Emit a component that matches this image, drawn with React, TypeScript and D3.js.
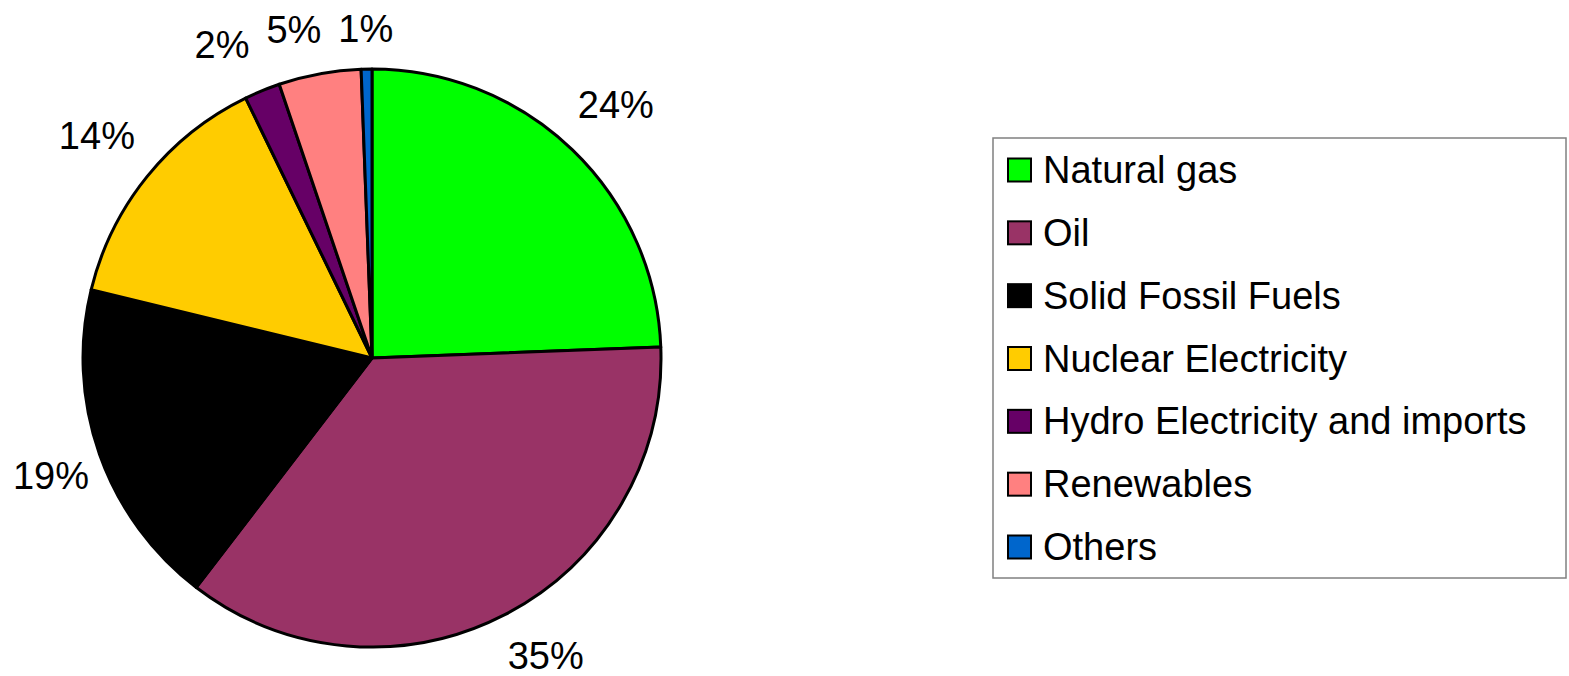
import React from "react";
import * as d3 from "d3";

const categories = [
  "Natural gas",
  "Oil",
  "Solid Fossil Fuels",
  "Nuclear Electricity",
  "Hydro Electricity and imports",
  "Renewables",
  "Others",
];
const shares = [24.4, 36.0, 18.4, 14.0, 2.0, 4.6, 0.6];
const pctLabels = ["24%", "35%", "19%", "14%", "2%", "5%", "1%"];
const colors = ["#00FF00", "#993366", "#000000", "#FFCC00", "#660066", "#FF8080", "#0066CC"];

const W = 1569;
const H = 676;
const CX = 372;
const CY = 358;
const R = 289;
const GAP = 26;
const FS = 38;
const HH = 14;
const MIN_SEP = 17;
const FONT = "'Liberation Sans', Arial, sans-serif";

function textW(s: string) {
  let w = 0;
  for (const ch of s) w += ch === "%" ? 0.889 : 0.556;
  return w * FS;
}

type Box = { x: number; y: number; hw: number };

export default function App() {
  const pie = d3
    .pie<number>()
    .sort(null)
    .value((d) => d)
    .startAngle(0)
    .endAngle(2 * Math.PI);
  const arcs = pie(shares);
  const arc = d3.arc<d3.PieArcDatum<number>>().innerRadius(0).outerRadius(R);

  // label placement (absolute coordinates of text box centres)
  const boxes: Box[] = arcs.map((a, i) => {
    const mid = (a.startAngle + a.endAngle) / 2;
    const ux = Math.sin(mid);
    const uy = -Math.cos(mid);
    const hw = textW(pctLabels[i]) / 2;
    const d = R + GAP + hw * Math.abs(ux) + HH * Math.abs(uy);
    let x = CX + d * ux;
    let y = CY + d * uy;
    const maxY = 656;
    if (y > maxY) {
      const ry = maxY - CY;
      const rx = Math.sqrt(Math.max(0, d * d - ry * ry));
      x = CX + Math.sign(ux) * rx;
      y = maxY;
    }
    const minLeft = 13;
    if (x - hw < minLeft) x = minLeft + hw;
    return { x, y, hw };
  });
  // resolve overlaps among labels above the pie, pushing earlier ones left
  for (let i = boxes.length - 1; i > 0; i--) {
    const b = boxes[i];
    const a = boxes[i - 1];
    if (a.y < CY && b.y < CY && Math.abs(a.y - b.y) < 2 * HH + 6) {
      const limit = b.x - b.hw - MIN_SEP;
      if (a.x + a.hw > limit) a.x = limit - a.hw;
    }
  }

  const legendX = 993;
  const legendY = 138;
  const legendW = 573;
  const legendH = 440;
  const rowY = d3.scalePoint<string>().domain(categories).range([170, 547]);

  return (
    <svg
      width={W}
      height={H}
      style={{ position: "fixed", left: 0, top: 0, background: "#fff" }}
      fontFamily={FONT}
    >
      <g transform={`translate(${CX},${CY})`}>
        {arcs.map((a, i) => (
          <path key={i} d={arc(a) || ""} fill={colors[i]} stroke="#000" strokeWidth={3} strokeLinejoin="round" />
        ))}
      </g>
      {boxes.map((b, i) => (
        <text key={i} x={b.x} y={b.y + 13} textAnchor="middle" fontSize={FS} fill="#000">
          {pctLabels[i]}
        </text>
      ))}
      <rect x={legendX} y={legendY} width={legendW} height={legendH} fill="#fff" stroke="#808080" strokeWidth={1.5} />
      {categories.map((c, i) => {
        const y = rowY(c) as number;
        return (
          <g key={c}>
            <rect x={1008} y={y - 11.5} width={23} height={23} fill={colors[i]} stroke="#000" strokeWidth={2} />
            <text x={1043} y={y + 13} fontSize={FS} fill="#000">
              {c}
            </text>
          </g>
        );
      })}
    </svg>
  );
}
